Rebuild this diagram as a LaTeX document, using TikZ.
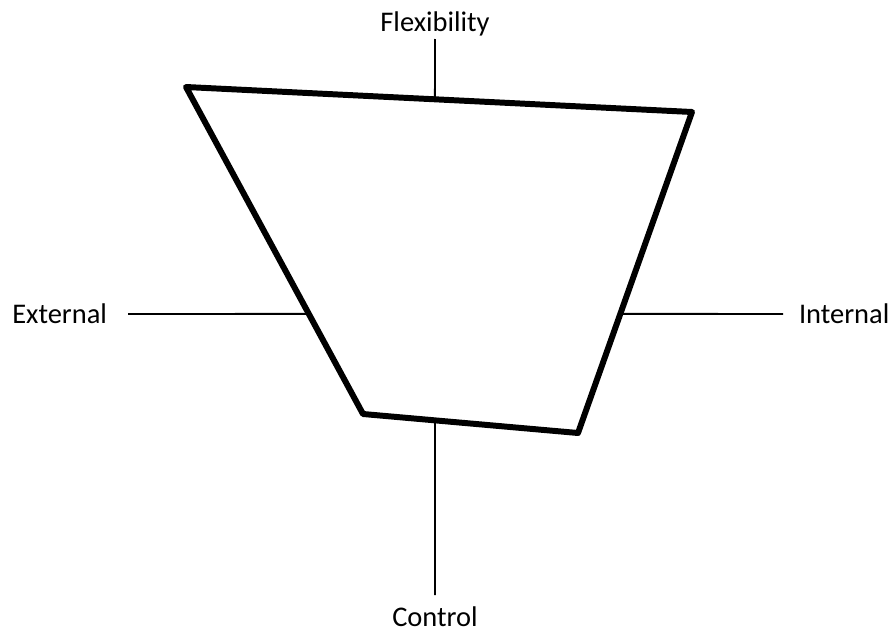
\documentclass[tikz,border=0pt]{standalone}
\usepackage{fontspec}
\setmainfont{Carlito}
\usetikzlibrary{calc, positioning}

\begin{document}
\begin{tikzpicture}[
    x=0.02cm, y=-0.02cm,
    every node/.style = {font=\fontsize{16.2}{19.5}\selectfont},
    lbl/.style   = {inner sep=0pt, outer sep=0pt},
    axisln/.style = {line width=1.1pt, black},
    frame/.style = {line width=3.4pt, black, line join=round},
]
\useasboundingbox (0,0) rectangle (893,632);

% corners of the profile
\coordinate (tl) at (186,87);
\coordinate (tr) at (692,112);
\coordinate (br) at (578,433);
\coordinate (bl) at (363,414);

% where the axes meet the profile
\coordinate (fx) at ($(tl)!0.492!(tr)$);
\coordinate (ex) at ($(tl)!0.694!(bl)$);
\coordinate (ix) at ($(tr)!0.629!(br)$);
\coordinate (cx) at ($(bl)!0.335!(br)$);

% outer ends of the axes
\coordinate (fT) at (435,39);
\coordinate (eL) at (128,314);
\coordinate (iR) at (783,314);
\coordinate (cB) at (435,595);

% labels
\node[lbl, above=0.06cm of fT] (flex) {Flexibility};
\node[lbl, left=0.42cm of eL] (ext) {External};
\node[lbl, right=0.32cm of iR] (int) {Internal};
\node[lbl, below=0.24cm of cB] (ctrl) {Control};

% axes
\draw[axisln] (fT) -- (fx);
\draw[axisln] (eL) -- (ex);
\draw[axisln] (iR) -- (ix);
\draw[axisln] (cB) -- (cx);

% profile
\draw[frame] (tl) -- (tr) -- (br) -- (bl) -- cycle;
\end{tikzpicture}
\end{document}
